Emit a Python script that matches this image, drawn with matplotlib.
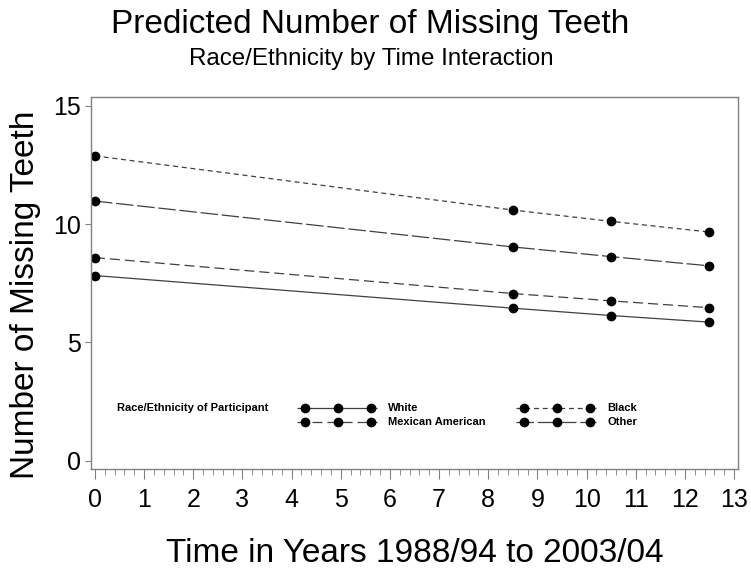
import matplotlib
matplotlib.use("Agg")
import matplotlib.pyplot as plt
from matplotlib.lines import Line2D
from matplotlib.ticker import MultipleLocator
import numpy as np

plt.rcParams['font.family'] = ['Liberation Sans', 'DejaVu Sans']

years = [0, 8.5, 10.5, 12.5]
groups = ["White", "Black", "Mexican American", "Other"]
white = [7.83, 6.45, 6.14, 5.86]
black = [12.89, 10.60, 10.12, 9.67]
mexican = [8.59, 7.07, 6.76, 6.47]
other = [10.98, 9.04, 8.63, 8.24]

title = "Predicted Number of Missing Teeth"
subtitle = "Race/Ethnicity by Time Interaction"
xlabel = "Time in Years 1988/94 to 2003/04"
ylabel = "Number of Missing Teeth"
legend_title = "Race/Ethnicity of Participant"

W, H = 751, 573
fig = plt.figure(figsize=(W / 100, H / 100), dpi=100)
ax = fig.add_axes([91 / W, 1 - 469 / H, 647 / W, 372 / H])

styles = {
    "White": (0, ()),
    "Black": (0, (4, 3)),
    "Mexican American": (0, (8, 4)),
    "Other": (0, (14, 3)),
}
series = {"White": white, "Black": black, "Mexican American": mexican, "Other": other}
lc = "#404040"
ms = 6
for g in groups:
    ax.plot(years, series[g], color=lc, lw=0.9, linestyle=styles[g],
            marker='o', ms=ms, mfc='black', mec='black')

ax.set_xlim(-0.08, 13.08)
ax.set_ylim(-0.35, 15.38)
ax.xaxis.set_major_locator(MultipleLocator(1))
ax.xaxis.set_minor_locator(MultipleLocator(0.2))
ax.yaxis.set_major_locator(MultipleLocator(5))
ax.yaxis.set_minor_locator(MultipleLocator(5 / 3))
spc = "#808080"
for s in ax.spines.values():
    s.set_color(spc)
    s.set_linewidth(1.0)
ax.tick_params(axis='x', which='major', direction='out', length=7, color=spc,
               labelsize=18, pad=7)
ax.tick_params(axis='x', which='minor', direction='out', length=4, color=spc)
ax.tick_params(axis='y', which='major', direction='out', length=4, color=spc,
               labelsize=18, pad=3)
ax.tick_params(axis='y', which='minor', direction='out', length=0, color=spc)

def fx(x):
    return x / W

def fy(y):
    return 1 - y / H

fig.text(fx(415), fy(553), xlabel, fontsize=24, ha='center', va='center')
fig.text(fx(26), fy(295), ylabel, fontsize=24, ha='center', va='center', rotation=90)
fig.text(fx(370), fy(24), title, fontsize=24, ha='center', va='center')
fig.text(fx(371), fy(59), subtitle, fontsize=17.4, ha='center', va='center')

fig.text(fx(117), fy(408), legend_title, fontsize=8, fontweight='bold',
         ha='left', va='center')
entries = [
    ("White", 297, 408),
    ("Mexican American", 297, 422),
    ("Black", 516, 408),
    ("Other", 516, 422),
]
for g, x0, y in entries:
    fig.add_artist(Line2D([fx(x0), fx(x0 + 80)], [fy(y), fy(y)], color=lc, lw=0.9,
                          linestyle=styles[g], transform=fig.transFigure))
    mx = [fx(x0 + 8), fx(x0 + 41), fx(x0 + 74)]
    fig.add_artist(Line2D(mx, [fy(y)] * 3, linestyle='none', marker='o', ms=ms,
                          mfc='black', mec='black', transform=fig.transFigure))
    fig.text(fx(x0 + 91), fy(y), g, fontsize=8, fontweight='bold',
             ha='left', va='center')

fig.savefig("out.png", dpi=100)
